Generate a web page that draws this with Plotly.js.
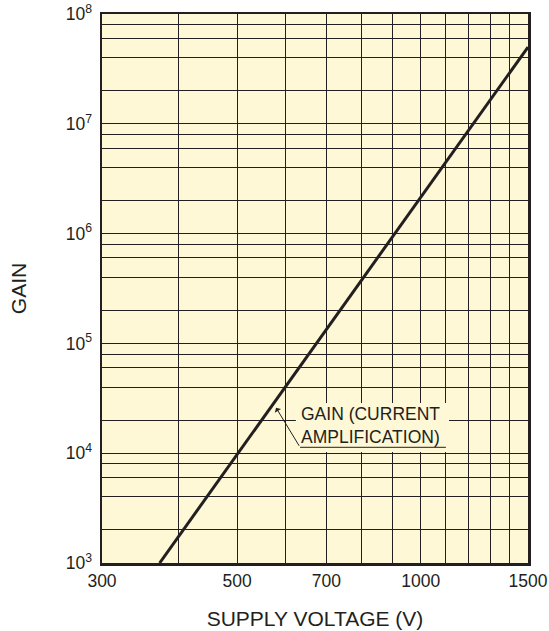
<!DOCTYPE html>
<html>
<head>
<meta charset="utf-8">
<script src="https://cdn.plot.ly/plotly-3.0.1.min.js"></script>
<style>html,body{margin:0;padding:0;background:#fff;}#chart{width:549px;height:631px;}</style>
</head>
<body>
<div id="chart"></div>
<script>
// Data (log-log straight line)
const supplyVoltage = [373, 500, 700, 1000, 1500];
const gain = [1000, 9800, 1.33e5, 2.15e6, 5.0e7];

// Axis ticks / grid
const xGridVals = [300, 400, 500, 600, 700, 800, 900, 1000, 1100, 1200, 1300, 1400, 1500];
const xTickText = ['300', '', '500', '', '700', '', '', '1000', '', '', '', '', '1500'];
const yGridVals = [1e3, 2e3, 4e3, 6e3, 8e3, 1e4, 2e4, 4e4, 6e4, 8e4, 1e5, 2e5, 4e5, 6e5, 8e5,
                   1e6, 2e6, 4e6, 6e6, 8e6, 1e7, 2e7, 4e7, 6e7, 8e7, 1e8];
const yTickText = ['10<sup>3</sup>', '', '', '', '', '10<sup>4</sup>', '', '', '', '', '10<sup>5</sup>', '', '', '', '',
                   '10<sup>6</sup>', '', '', '', '', '10<sup>7</sup>', '', '', '', '', '10<sup>8</sup>'];

const labelText = 'GAIN (CURRENT<br>AMPLIFICATION)';
const xTitle = 'SUPPLY VOLTAGE (V)';
const yTitle = 'GAIN';

const ink = '#231f20';
const bg = '#fef8d6';
const font = 'Liberation Sans, Arial, Helvetica, sans-serif';
const L = Math.log10;

const trace = {
  x: supplyVoltage, y: gain, type: 'scatter', mode: 'lines',
  line: {color: ink, width: 3}, hoverinfo: 'skip', showlegend: false
};

const layout = {
  width: 549, height: 631,
  margin: {l: 102, r: 21, t: 14, b: 68},
  paper_bgcolor: '#ffffff', plot_bgcolor: bg,
  font: {family: font, color: ink, size: 17.5},
  xaxis: {
    type: 'log', range: [L(300), L(1500)],
    tickmode: 'array', tickvals: xGridVals, ticktext: xTickText,
    ticks: '', ticklabelstandoff: 0,
    showgrid: true, gridcolor: ink, gridwidth: 1,
    showline: true, mirror: true, linecolor: ink, linewidth: 2.5,
    zeroline: false, tickfont: {size: 17.5},
    title: {text: xTitle, font: {size: 21}, standoff: 22}
  },
  yaxis: {
    type: 'log', range: [3, 8],
    tickmode: 'array', tickvals: yGridVals, ticktext: yTickText,
    ticks: '', ticklabelstandoff: 4,
    showgrid: true, gridcolor: ink, gridwidth: 1,
    showline: true, mirror: true, linecolor: ink, linewidth: 2.5,
    zeroline: false, tickfont: {size: 17.5},
    title: {text: yTitle, font: {size: 21}, standoff: 34}
  },
  shapes: [
    {type: 'rect', xref: 'x', yref: 'y', x0: 624, x1: 1113, y0: 10260, y1: 28650,
     fillcolor: bg, line: {width: 0}, layer: 'between'},
    {type: 'line', xref: 'x', yref: 'y', x0: 634, x1: 1100, y0: 11316, y1: 11316,
     line: {color: ink, width: 1}, layer: 'above'}
  ],
  annotations: [
    {xref: 'x', yref: 'y', x: L(634), y: L(17880), xanchor: 'left', yanchor: 'middle',
     text: labelText, showarrow: false, align: 'left', borderpad: 0,
     font: {size: 17.5, color: ink, family: font}},
    {xref: 'x', yref: 'y', axref: 'x', ayref: 'y', x: L(579), y: L(25970), ax: L(634), ay: L(11316),
     text: '', showarrow: true, arrowhead: 1, arrowsize: 1.2, arrowwidth: 1, arrowcolor: ink,
     standoff: 0, startstandoff: 0}
  ]
};

Plotly.newPlot('chart', [trace], layout, {displayModeBar: false, staticPlot: true});
</script>
</body>
</html>
